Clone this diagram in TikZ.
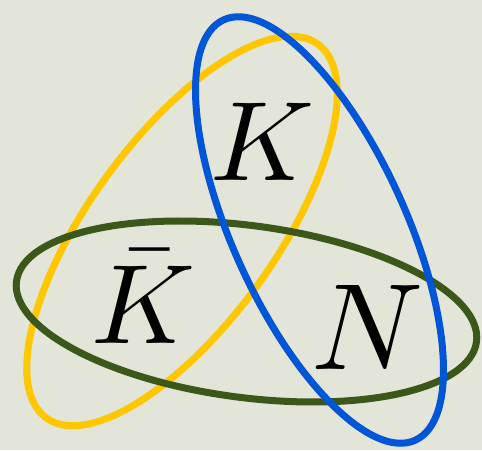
\documentclass[tikz,border=0pt]{standalone}
\definecolor{bgc}{RGB}{227,229,217}
\definecolor{ylw}{RGB}{255,199,0}
\definecolor{blu}{RGB}{0,86,214}
\definecolor{grn}{RGB}{59,88,26}
\tikzset{
  ring/.style={line width=7pt},
  lbl/.style={inner sep=0pt, anchor=base, text=black}
}
\begin{document}
\begin{tikzpicture}[x=1pt,y=1pt]
\useasboundingbox (0,0) rectangle (482,450);
\fill[bgc] (0,0) rectangle (482,450);
% yellow (bottom layer)
\draw[ring, ylw, shift={(182,219)}, rotate=54] (0,0) ellipse [x radius=231pt, y radius=93pt];
% green
\draw[ring, grn, shift={(246.5,138.5)}, rotate=-7.5] (0,0) ellipse [x radius=232pt, y radius=86pt];
% blue (top layer)
\draw[ring, blu, shift={(319.5,220)}, rotate=-65.5] (0,0) ellipse [x radius=231pt, y radius=86.5pt];
% labels
\node[lbl, scale=11.3] (k) at (263,269) {$K$};
\node[lbl, scale=11.3] (kbar) at (143.5,106.7) {$\bar{K}$};
\node[lbl, scale=12.3] (n) at (368,81) {$N$};
\end{tikzpicture}
\end{document}
